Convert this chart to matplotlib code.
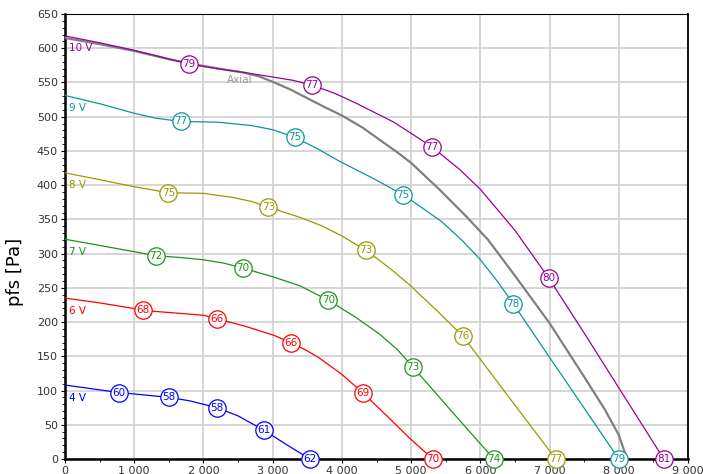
import numpy as np
import matplotlib.pyplot as plt
from matplotlib.ticker import MultipleLocator, FuncFormatter

# courbes débit [m3/h] / pression statique [Pa] par tension de commande
q_10v = [0, 500, 1000, 1400, 1790, 2200, 2500, 3000, 3300, 3570, 3900, 4200, 4750, 5300,
         5700, 6000, 6500, 6990, 7500, 8100, 8650]
p_10v = [618, 608, 597, 587, 577, 570, 566, 558, 553, 546, 534, 520, 492, 456,
         423, 394, 334, 264, 184, 88, 0]

q_9v = [0, 500, 1000, 1300, 1675, 2200, 2700, 3000, 3320, 3650, 4000, 4450, 4886, 5200,
        5450, 5750, 5993, 6250, 6474, 7003, 8000]
p_9v = [531, 519, 505, 498, 493, 492, 487, 481, 470, 453, 433, 410, 386, 364,
        346, 318, 292, 259, 227, 148, 0]

q_8v = [0, 500, 986, 1492, 2000, 2430, 2700, 2936, 3394, 3700, 3995, 4347, 4700, 4982,
        5400, 5752, 6400, 7090]
p_8v = [418, 408, 398, 389, 388, 382, 376, 368, 353, 341, 326, 305, 278, 254,
        214, 179, 92, 0]

q_7v = [0, 500, 986, 1314, 1700, 2000, 2300, 2565, 3008, 3394, 3802, 4200, 4549, 4800,
        5021, 5600, 6195]
p_7v = [321, 312, 303, 297, 294, 291, 286, 279, 266, 253, 232, 207, 182, 160,
        135, 68, 0]

q_6v = [0, 500, 986, 1121, 1500, 1997, 2190, 2600, 3008, 3264, 3500, 3682, 3995, 4299,
        4650, 4982, 5314]
p_6v = [235, 228, 220, 217, 214, 210, 205, 194, 181, 170, 158, 147, 124, 97,
        63, 30, 0]

q_4v = [0, 500, 784, 1000, 1502, 1800, 2195, 2500, 2874, 3200, 3538]
p_4v = [108, 101, 97, 95, 90, 85, 75, 63, 42, 21, 0]

q_axial = [0, 500, 1000, 1500, 1949, 2300, 2600, 2800, 3000, 3250, 3500, 3750, 3995, 4300,
           4549, 4800, 5006, 5415, 5800, 6113, 6520, 7003, 7500, 7800, 8000, 8120]
p_axial = [615, 606, 596, 584, 575, 569, 564, 559, 551, 540, 527, 514, 502, 484,
           466, 448, 432, 393, 354, 320, 265, 198, 120, 72, 35, 0]

# niveaux sonores [dB(A)] et débits où ils sont relevés
qm_10v = [1790, 3570, 5300, 6990, 8650]
db_10v = [79, 77, 77, 80, 81]
qm_9v = [1675, 3320, 4886, 6474, 8000]
db_9v = [77, 75, 75, 78, 79]
qm_8v = [1492, 2936, 4347, 5752, 7090]
db_8v = [75, 73, 73, 76, 77]
qm_7v = [1314, 2565, 3802, 5021, 6195]
db_7v = [72, 70, 70, 73, 74]
qm_6v = [1121, 2190, 3264, 4299, 5314]
db_6v = [68, 66, 66, 69, 70]
qm_4v = [784, 1502, 2195, 2874, 3538]
db_4v = [60, 58, 58, 61, 62]

courbes = [
    ("10 V", q_10v, p_10v, qm_10v, db_10v, "#990099"),
    ("9 V", q_9v, p_9v, qm_9v, db_9v, "#0a9696"),
    ("8 V", q_8v, p_8v, qm_8v, db_8v, "#999900"),
    ("7 V", q_7v, p_7v, qm_7v, db_7v, "#1a941a"),
    ("6 V", q_6v, p_6v, qm_6v, db_6v, "#ff0000"),
    ("4 V", q_4v, p_4v, qm_4v, db_4v, "#0000ff"),
]

fig = plt.figure(figsize=(7.03, 4.74), dpi=100)
ax = fig.add_axes([65 / 703, 15 / 474, 623 / 703, 445 / 474])

ax.plot(q_axial, p_axial, color="#808080", lw=1.6, zorder=3)
ax.text(2530, 553, "Axial", color="#9a9a9a", fontsize=7.5, ha="center", va="center", zorder=4)

for nom, q, p, qm, db, c in courbes:
    ax.plot(q, p, color=c, lw=0.9, zorder=3)
    ax.annotate(nom, (0, p[0]), xytext=(3, -9), textcoords="offset points",
                color=c, fontsize=7.5, ha="left", va="center", zorder=4)
    for qi, d in zip(qm, db):
        pi = p[q.index(qi)]
        ax.plot(qi, pi, "o", ms=12.5, mfc="white", mec=c, mew=0.9,
                zorder=5, clip_on=False)
        ax.text(qi, pi, str(d), color=c, fontsize=7.5, ha="center",
                va="center", zorder=6, clip_on=False)

ax.set_xlim(0, 9000)
ax.set_ylim(0, 650)
ax.xaxis.set_major_locator(MultipleLocator(1000))
ax.xaxis.set_minor_locator(MultipleLocator(500))
ax.yaxis.set_major_locator(MultipleLocator(50))
ax.yaxis.set_minor_locator(MultipleLocator(10))
ax.xaxis.set_major_formatter(FuncFormatter(lambda v, pos: f"{int(v):,}".replace(",", " ")))

ax.grid(True, which="major", color="#d0d0d0", lw=1.2)
ax.set_axisbelow(True)
ax.tick_params(which="major", length=3, width=0.8, labelsize=8, labelcolor="#333333", pad=2)
ax.tick_params(which="minor", length=2, width=0.6)

for s in ["left", "bottom"]:
    ax.spines[s].set_linewidth(1.8)
ax.spines["right"].set_linewidth(1.3)
ax.spines["top"].set_linewidth(0.8)

ax.set_ylabel("pfs [Pa]", fontsize=13)
ax.yaxis.set_label_coords(-0.066, 0.42)

plt.savefig("out.png", dpi=100)
